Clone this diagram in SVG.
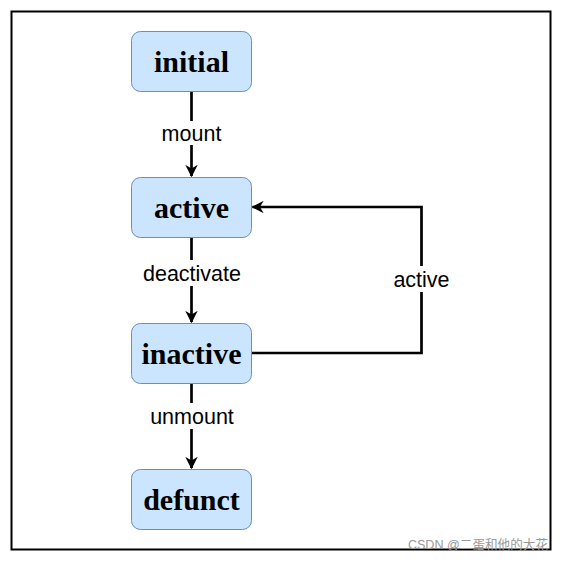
<svg xmlns="http://www.w3.org/2000/svg" width="562" height="562" viewBox="0 0 562 562">
<defs>
<style>
.node rect{fill:#cce5ff;stroke:#6c8ebf;stroke-width:1}
.node text{font-family:"Liberation Serif",serif;font-weight:bold;font-size:30px;text-anchor:middle;fill:#000}
.edge{fill:none;stroke:#000;stroke-width:2.7}
.lbl{font-family:"Liberation Sans",Arial,sans-serif;font-size:21.5px;text-anchor:middle;fill:#000}
.lblbg{fill:#fff}
</style>
<marker id="arr" viewBox="0 0 10 10" refX="9" refY="5" markerWidth="4.6" markerHeight="4.6" orient="auto" markerUnits="strokeWidth">
<path d="M0,0 L10,5 L0,10 L3,5 Z" fill="#000"/>
</marker>
</defs>
<rect x="0" y="0" width="562" height="562" fill="#fff"/>
<rect x="11.5" y="11.5" width="539" height="538" fill="none" stroke="#000" stroke-width="2"/>
<g id="connectors">
<path class="edge" d="M191.5,91.5 V176" marker-end="url(#arr)"/>
<path class="edge" d="M191.5,237.5 V322" marker-end="url(#arr)"/>
<path class="edge" d="M191.5,383.5 V468" marker-end="url(#arr)"/>
<path class="edge" d="M251.5,353 H421.5 V207 H252.5" marker-end="url(#arr)"/>
<rect class="lblbg" x="154" y="121" width="75" height="24"/>
<text class="lbl" x="191.5" y="141">mount</text>
<rect class="lblbg" x="138" y="260" width="108" height="26"/>
<text class="lbl" x="192" y="281">deactivate</text>
<rect class="lblbg" x="144" y="403" width="96" height="26"/>
<text class="lbl" x="192" y="424">unmount</text>
<rect class="lblbg" x="386" y="266" width="70" height="26"/>
<text class="lbl" x="421.5" y="287">active</text>
</g>
<g id="initial" class="node"><rect x="131.5" y="31.5" width="120" height="60" rx="9"/><text x="191.5" y="72">initial</text></g>
<g id="active" class="node"><rect x="131.5" y="177.5" width="120" height="60" rx="9"/><text x="191.5" y="218">active</text></g>
<g id="inactive" class="node"><rect x="131.5" y="323.5" width="120" height="60" rx="9"/><text x="191.5" y="364">inactive</text></g>
<g id="defunct" class="node"><rect x="131.5" y="469.5" width="120" height="60" rx="9"/><text x="191.5" y="510">defunct</text></g>
<text x="548" y="549" font-family="Liberation Sans,'Noto Sans CJK SC',sans-serif" font-size="12.6" fill="#999" text-anchor="end">CSDN @二蛋和他的大花</text>
</svg>
